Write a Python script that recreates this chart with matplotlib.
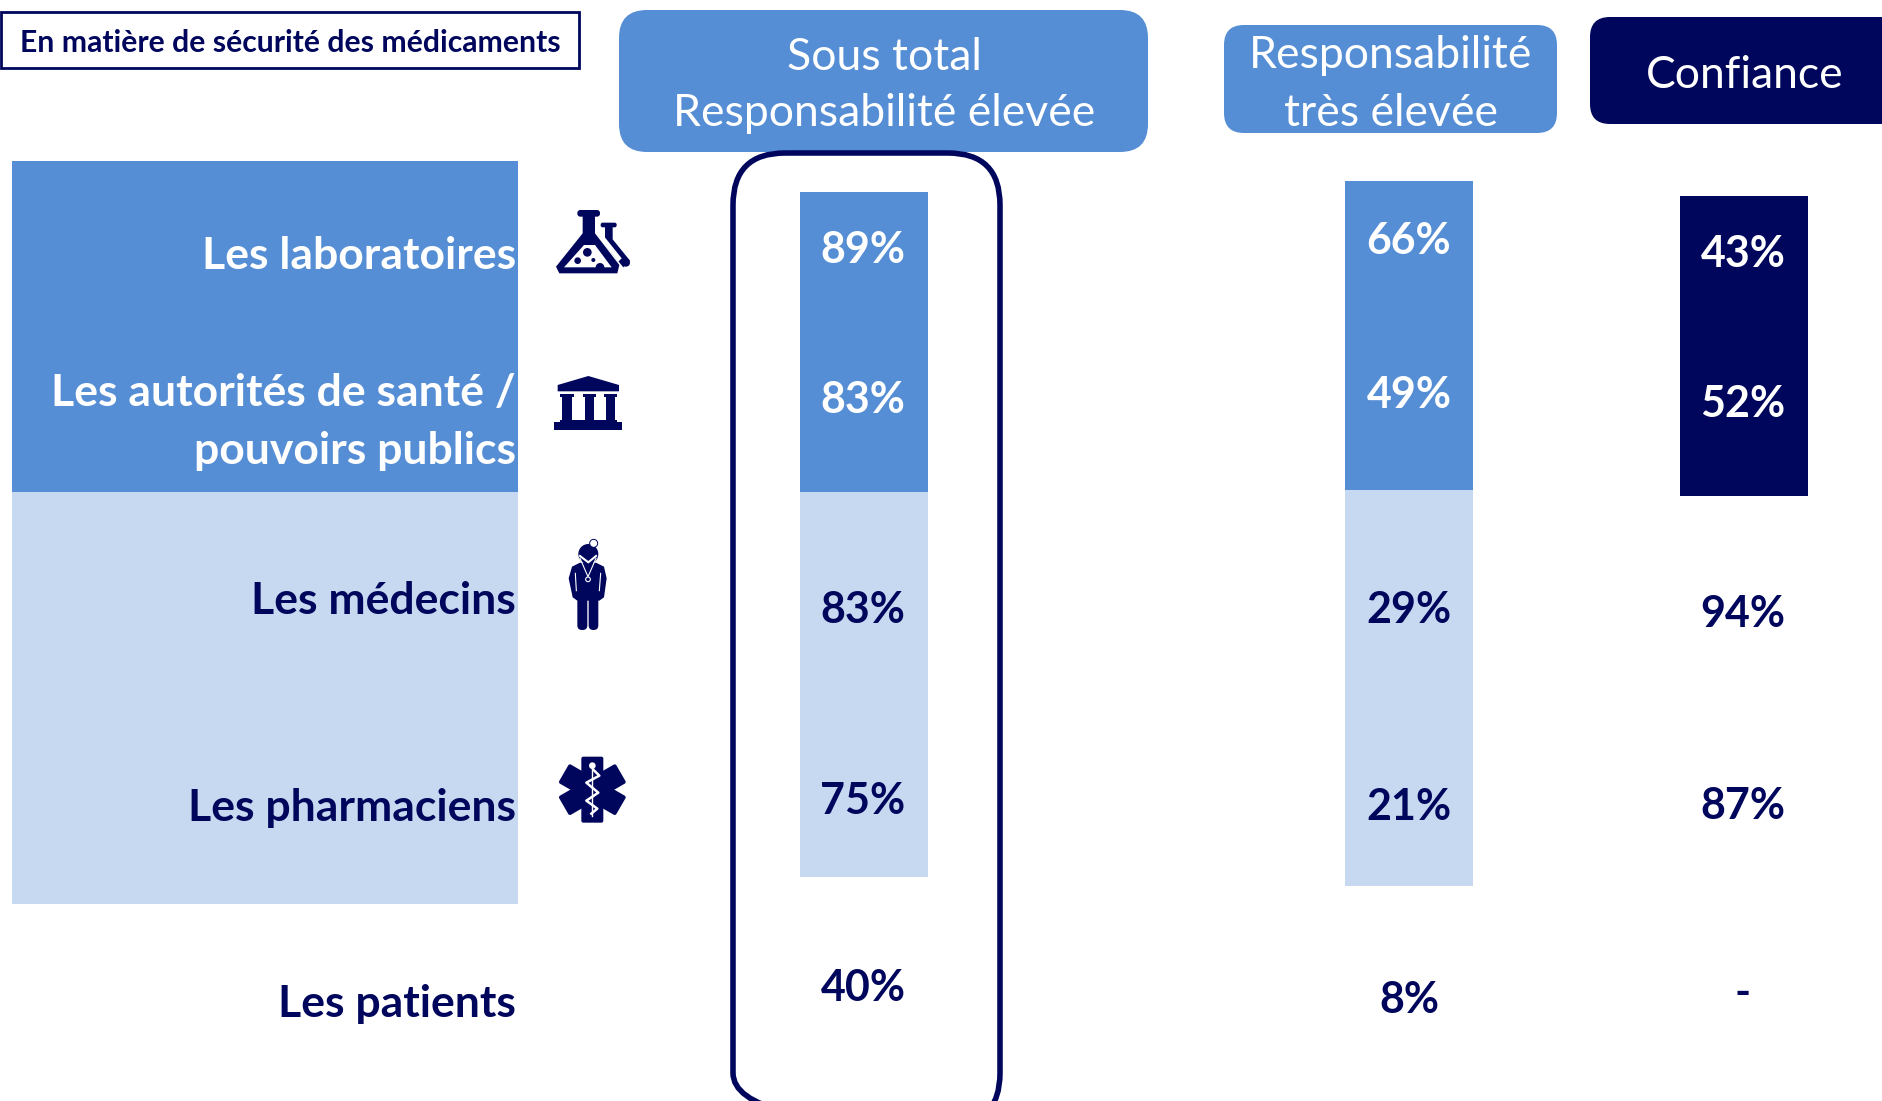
import matplotlib
matplotlib.use("Agg")
import matplotlib.pyplot as plt
from matplotlib.patches import Circle, FancyBboxPatch, Polygon, Rectangle
from matplotlib.transforms import Affine2D

plt.rcParams["font.family"] = ["Lato", "DejaVu Sans"]

# Data
title = "En matière de sécurité des médicaments"
headers = [["Sous total", "Responsabilité élevée"], ["Responsabilité", "très élevée"], ["Confiance"]]
row_labels = [["Les laboratoires"], ["Les autorités de santé /", "pouvoirs publics"],
              ["Les médecins"], ["Les pharmaciens"], ["Les patients"]]
sous_total = ["89%", "83%", "83%", "75%", "40%"]
tres_elevee = ["66%", "49%", "29%", "21%", "8%"]
confiance = ["43%", "52%", "94%", "87%", "-"]

# Layout, in reference pixels
label_y = [256, [393, 451], 601, 808, 1004]
col1_y = [250, 400, 610, 801, 988]
col2_y = [241, 395, 610, 807, 1000]
col3_y = [254, 404, 614, 806, 993]
col_x = [863, 1409, 1743]

NAVY = "#00065c"
BLUE = "#558ed5"
LIGHT = "#c6d9f1"

fig = plt.figure(figsize=(18.82, 11.01), dpi=100)
ax = fig.add_axes([0, 0, 1, 1])
ax.set_xlim(0, 1882)
ax.set_ylim(1101, 0)
ax.axis("off")


def block(x0, x1, y0, y1, color):
    ax.add_patch(Rectangle((x0, y0), x1 - x0, y1 - y0, fc=color, ec="none"))


def rounded(x0, x1, y0, y1, r, fc, ec="none", lw=0, **kw):
    ax.add_patch(FancyBboxPatch((x0, y0), x1 - x0, y1 - y0, boxstyle=f"round,pad=0,rounding_size={r}",
                                fc=fc, ec=ec, lw=lw, **kw))


# Title box
ax.add_patch(Rectangle((1.5, 12), 578, 56, fc="white", ec=NAVY, lw=2))
ax.text(290, 43, title, color=NAVY, fontsize=21.7, fontweight="bold", ha="center", va="center")

# Headers
rounded(619, 1148, 10, 152, 28, BLUE)
rounded(1224, 1557, 25, 133, 20, BLUE)
rounded(1590, 1900, 17, 124, 20, NAVY)
for x, y, s in [(884, 57, headers[0][0]), (884, 114, headers[0][1]),
                (1391, 55, headers[1][0]), (1391, 113, headers[1][1]), (1745, 75, headers[2][0])]:
    ax.text(x, y, s, color="white", fontsize=32, ha="center", va="center")

# Bands and bars
block(12, 518, 161, 492, BLUE)
block(12, 518, 492, 904, LIGHT)
block(800, 928, 192, 492, BLUE)
block(800, 928, 492, 877, LIGHT)
block(1345, 1473, 181, 490, BLUE)
block(1345, 1473, 490, 886, LIGHT)
block(1680, 1808, 196, 496, NAVY)

# Outline round the first column
rounded(733, 1000, 153, 1125, 52, "none", ec=NAVY, lw=4)

# Row labels
for i, lines in enumerate(row_labels):
    ys = label_y[i] if isinstance(label_y[i], list) else [label_y[i]]
    c = "white" if i < 2 else NAVY
    for y, s in zip(ys, lines):
        ax.text(516, y, s, color=c, fontsize=32, fontweight="bold", ha="right", va="center")

# Values
for i in range(5):
    ax.text(col_x[0], col1_y[i], sous_total[i], color="white" if i < 2 else NAVY,
            fontsize=31, fontweight="bold", ha="center", va="center")
    ax.text(col_x[1], col2_y[i], tres_elevee[i], color="white" if i < 2 else NAVY,
            fontsize=31, fontweight="bold", ha="center", va="center")
    ax.text(col_x[2], col3_y[i], confiance[i], color="white" if i < 2 else NAVY,
            fontsize=31, fontweight="bold", ha="center", va="center")


# Icons, sketched from the zoomed crops (3x, offset x0, y0)
def z(pts, x0, y0):
    return [(x0 + a / 3, y0 + b / 3) for a, b in pts]


def poly(pts, x0, y0, fc=NAVY, **kw):
    ax.add_patch(Polygon(z(pts, x0, y0), closed=True, fc=fc, ec=kw.pop("ec", "none"), **kw))


def dot(a, b, r, x0, y0, fc=NAVY, **kw):
    ax.add_patch(Circle((x0 + a / 3, y0 + b / 3), r / 3, fc=fc, ec=kw.pop("ec", "none"), **kw))


def zbox(a0, a1, b0, b1, r, x0, y0, fc=NAVY):
    rounded(x0 + a0 / 3, x0 + a1 / 3, y0 + b0 / 3, y0 + b1 / 3, r / 3, fc)


# flask
X, Y = 530, 190
poly([(225, 105), (248, 105), (248, 148), (300, 212), (280, 232), (225, 165)], X, Y)
dot(288, 218, 12, X, Y)
zbox(212, 260, 98, 112, 6, X, Y)
poly([(195, 130), (215, 130), (275, 205), (265, 215)], X, Y, fc="white")
poly([(195, 78), (195, 130), (268, 225), (262, 250), (88, 250), (78, 230), (158, 130), (158, 78)], X, Y)
zbox(142, 210, 60, 80, 9, X, Y)
poly([(162, 165), (195, 165), (245, 232), (102, 232)], X, Y, fc="white")
dot(172, 187, 13, X, Y)
dot(143, 212, 10, X, Y)
dot(190, 210, 6, X, Y)
dot(210, 232, 13, X, Y)
block(X + 102 / 3, X + 250 / 3, Y + 233 / 3, Y + 250 / 3, NAVY)

# pillars
poly([(83, 585), (175, 558), (267, 585), (267, 604), (83, 604)], X, Y)
for a0, a1 in [(90, 132), (158, 198), (222, 262)]:
    block(X + a0 / 3, X + a1 / 3, Y + 612 / 3, Y + 620 / 3, NAVY)
    block(X + (a0 + 7) / 3, X + (a1 - 7) / 3, Y + 620 / 3, Y + 692 / 3, NAVY)
block(X + 90 / 3, X + 262 / 3, Y + 690 / 3, Y + 696 / 3, NAVY)
block(X + 73 / 3, X + 275 / 3, Y + 695 / 3, Y + 721 / 3, NAVY)

# doctor
X, Y = 530, 520
dot(175, 102, 30, X, Y)
poly([(150, 128), (198, 128), (222, 140), (230, 175), (222, 232), (208, 242), (142, 242), (128, 232),
      (116, 175), (126, 140)], X, Y)
zbox(142, 172, 200, 330, 14, X, Y)
zbox(176, 205, 200, 330, 14, X, Y)
dot(191, 70, 12, X, Y, fc="white", ec=NAVY, lw=0.7)
ax.plot([X + 150 / 3, X + 174 / 3, X + 198 / 3], [Y + 115 / 3, Y + 170 / 3, Y + 115 / 3], color="white", lw=0.8)
ax.plot([X + 150 / 3, X + 175 / 3, X + 198 / 3], [Y + 108 / 3, Y + 127 / 3, Y + 108 / 3], color="white", lw=1.5)
dot(174, 178, 7, X, Y, fc="none", ec="white", lw=0.8)
ax.plot([X + 136 / 3, X + 139 / 3], [Y + 160 / 3, Y + 212 / 3], color="white", lw=0.8)
ax.plot([X + 212 / 3, X + 208 / 3], [Y + 160 / 3, Y + 212 / 3], color="white", lw=0.8)

# star of life
cx, cy = 530 + 187 / 3, 520 + 809 / 3
for angle in [0, 60, 120]:
    tr = Affine2D().rotate_deg_around(cx, cy, angle) + ax.transData
    ax.add_patch(FancyBboxPatch((cx - 11, cy - 33), 22, 66, boxstyle="round,pad=0,rounding_size=2",
                                fc=NAVY, ec="none", transform=tr))
ax.plot([cx, cx], [cy - 22, cy + 26], color="white", lw=1)
snake_x = [cx + 1, cx + 7, cx - 6, cx + 6, cx - 6, cx + 5, cx - 1]
snake_y = [cy - 20, cy - 14, cy - 7, cy + 3, cy + 11, cy + 19, cy + 24]
ax.plot(snake_x, snake_y, color="white", lw=1.8)
dot(187, 737, 10, 530, 520, fc="white")

fig.savefig("out.png", dpi=100)
